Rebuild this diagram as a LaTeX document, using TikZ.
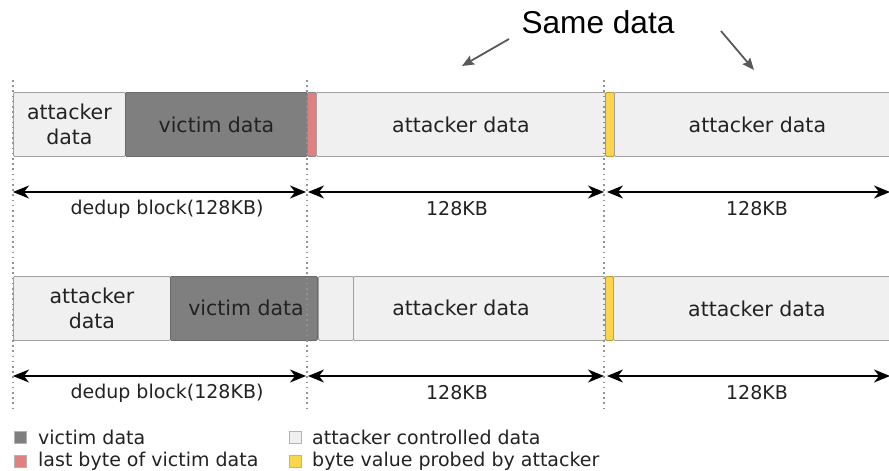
\documentclass[tikz,border=0pt]{standalone}
\usepackage{fontspec}
\setmainfont{DejaVu Sans}
\newfontfamily\titlefont{Liberation Sans}
\usetikzlibrary{arrows.meta}

\definecolor{lightcell}{HTML}{F0F0F0}
\definecolor{cellborder}{HTML}{A0A0A0}
\definecolor{victimfill}{HTML}{7F7F7F}
\definecolor{victimborder}{HTML}{6A6A6A}
\definecolor{lastbyte}{HTML}{E08080}
\definecolor{probed}{HTML}{FCD54E}
\definecolor{probedborder}{HTML}{B39A3A}
\definecolor{txt}{HTML}{222222}
\definecolor{pointer}{HTML}{595959}

\tikzset{
  cell/.style={draw=cellborder, line width=0.8pt, rounded corners=1.2pt,
    inner sep=0pt, anchor=north west, minimum height=64pt,
    font=\fontsize{20.5}{23}\selectfont, text=txt, align=center},
  attackercell/.style={cell, fill=lightcell},
  victimcell/.style={cell, fill=victimfill, draw=victimborder},
  lastcell/.style={cell, fill=lastbyte, draw=victimborder!80},
  probedcell/.style={cell, fill=probed, draw=probedborder},
  span/.style={{Stealth[length=16pt,width=13pt,inset=5pt]}-{Stealth[length=16pt,width=13pt,inset=5pt]}, line width=1.6pt, black},
  spanlabel/.style={font=\fontsize{19}{22}\selectfont, text=txt},
  boundary/.style={draw=gray!85, dash pattern=on 1.6pt off 3.6pt, line width=1.2pt},
  swatch/.style={inner sep=0pt, minimum size=12pt, anchor=north west, draw=gray!60, line width=0.4pt},
  legendtext/.style={anchor=west, font=\fontsize{19}{22}\selectfont, text=txt, inner sep=0pt},
  pointerarrow/.style={-{Stealth[length=12pt,width=10pt,inset=2pt]}, line width=1.8pt, pointer}
}

\begin{document}
\begin{tikzpicture}[x=1pt,y=-1pt]
\useasboundingbox (0,0) rectangle (889,471);
\begin{scope}
\clip (0,0) rectangle (889,471);

% first layout: blocks
\node[attackercell, minimum width=112pt] (a1) at (13,92) {attacker\\[2pt]data};
\node[victimcell, minimum width=182pt] (v1) at (125,92) {victim data};
\node[lastcell, minimum width=9pt] (r1) at (307,92) {};
\node[attackercell, minimum width=289pt] (a2) at (316,92) {attacker data};
\node[probedcell, minimum width=9pt] (y1) at (605,92) {};
\node[attackercell, minimum width=286pt] (a3) at (614,92) {attacker data};

% first layout: block spans
\coordinate (s1a) at (13,192);  \coordinate (s1b) at (306,192);
\coordinate (s2a) at (308,192); \coordinate (s2b) at (604,192);
\coordinate (s3a) at (607,192); \coordinate (s3b) at (890,192);
\draw[span] (s1a) -- (s1b);
\draw[span] (s2a) -- (s2b);
\draw[span] (s3a) -- (s3b);
\node[spanlabel] (l1) at (167,209) {dedup block(128KB)};
\node[spanlabel] (l2) at (457,209) {128KB};
\node[spanlabel] (l3) at (757,209) {128KB};

% second layout: blocks
\node[attackercell, minimum width=157pt] (b1) at (13,276) {attacker\\[2pt]data};
\node[victimcell, minimum width=147pt] (w1) at (170,276) {};
\node[font=\fontsize{20.5}{23}\selectfont, text=txt] (wt) at (246,308) {victim data};
\node[attackercell, minimum width=35pt] (b2) at (318,276) {};
\node[attackercell, minimum width=252pt] (b3) at (353,276) {};
\node[font=\fontsize{20.5}{23}\selectfont, text=txt] (bt) at (461,308) {attacker data};
\node[probedcell, minimum width=8pt] (y2) at (605,276) {};
\node[attackercell, minimum width=287pt] (b4) at (613,276) {attacker data};

% second layout: block spans
\coordinate (t1a) at (13,376);  \coordinate (t1b) at (306,376);
\coordinate (t2a) at (308,376); \coordinate (t2b) at (604,376);
\coordinate (t3a) at (607,376); \coordinate (t3b) at (890,376);
\draw[span] (t1a) -- (t1b);
\draw[span] (t2a) -- (t2b);
\draw[span] (t3a) -- (t3b);
\node[spanlabel] (m1) at (167,393) {dedup block(128KB)};
\node[spanlabel] (m2) at (457,393) {128KB};
\node[spanlabel] (m3) at (757,393) {128KB};

% block boundaries
\coordinate (d1t) at (13,80);  \coordinate (d1b) at (13,410);
\coordinate (d2t) at (307,80); \coordinate (d2b) at (307,410);
\coordinate (d3t) at (604,80); \coordinate (d3b) at (604,410);
\draw[boundary] (d1t) -- (d1b);
\draw[boundary] (d2t) -- (d2b);
\draw[boundary] (d3t) -- (d3b);

% annotation
\node[font=\titlefont\fontsize{31.6}{34}\selectfont, text=black] (same) at (598,22) {Same data};
\coordinate (p1a) at (509,39); \coordinate (p1b) at (462,66);
\coordinate (p2a) at (721,31); \coordinate (p2b) at (754,70);
\draw[pointerarrow] (p1a) -- (p1b);
\draw[pointerarrow] (p2a) -- (p2b);

% legend
\node[swatch, fill=victimfill] (k1) at (14,431) {};
\node[legendtext] (k1t) at (38,437) {victim data};
\node[swatch, fill=lastbyte] (k2) at (14,455) {};
\node[legendtext] (k2t) at (38,461) {last byte of victim data};
\node[swatch, fill=lightcell] (k3) at (289,431) {};
\node[legendtext] (k3t) at (312,437) {attacker controlled data};
\node[swatch, fill=probed] (k4) at (289,455) {};
\node[legendtext] (k4t) at (312,461) {byte value probed by attacker};
\end{scope}
\end{tikzpicture}
\end{document}
